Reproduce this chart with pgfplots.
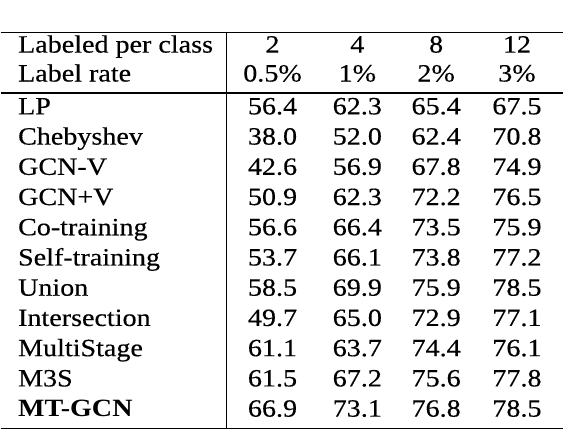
\documentclass[border=0pt]{standalone}
\usepackage{fontspec}
\setmainfont{Liberation Serif}[FakeStretch=1.13, UprightFeatures={FakeBold=0.35}]
\usepackage{pgfplots}
\usepackage{pgfplotstable}
\pgfplotsset{compat=1.18}

% header rows: baseline y (px from top), label, then one cell per column
\pgfplotstableread{
y     label               c2       c4     c8     c12
52.7  {Labeled per class} 2        4      8      12
81.7  {Label rate}        0.5\%    1\%    2\%    3\%
}\headrows

% accuracy per method and number of labels per class
\pgfplotstableread{
y      method              c2    c4    c8    c12
114.6  LP                  56.4  62.3  65.4  67.5
144.9  Chebyshev           38.0  52.0  62.4  70.8
175.2  GCN-V               42.6  56.9  67.8  74.9
205.5  GCN+V               50.9  62.3  72.2  76.5
235.8  Co-training         56.6  66.4  73.5  75.9
266.1  Self-training       53.7  66.1  73.8  77.2
296.4  Union               58.5  69.9  75.9  78.5
326.7  Intersection        49.7  65.0  72.9  77.1
357.0  MultiStage          61.1  63.7  74.4  76.1
387.3  M3S                 61.5  67.2  75.6  77.8
417.6  {\textbf{MT-GCN}}   66.9  73.1  76.8  78.5
}\results

\tikzset{cell/.style={font=\fontsize{25}{30}\selectfont, inner sep=0pt, text=black}}

\begin{document}
\begin{tikzpicture}
\begin{axis}[
  scale only axis,
  width=564bp, height=432bp,
  xmin=0, xmax=564, ymin=0, ymax=432,
  y dir=reverse,
  hide axis,
  clip=false,
  point meta=explicit symbolic,
]
% invisible frame so the page is the full size
\addplot[draw=none] coordinates {(0,0) (564,432)};

% rules
\addplot[black, line width=1.3bp] coordinates {(0,32.6) (564,32.6)};
\addplot[black, line width=1.2bp] coordinates {(0,93.2) (564,93.2)};
\addplot[black, line width=1.3bp] coordinates {(0,429.4) (564,429.4)};
\addplot[black, line width=1.1bp] coordinates {(226.5,32.6) (226.5,429.4)};

% first column
\addplot[only marks, mark=none, nodes near coords,
  nodes near coords style={cell, anchor=base west}]
  table[x expr=17.3, y=y, meta=label] {\headrows};
\addplot[only marks, mark=none, nodes near coords,
  nodes near coords style={cell, anchor=base west}]
  table[x expr=17.3, y=y, meta=method] {\results};

% value columns
\foreach \col/\xc in {c2/272.5, c4/357.5, c8/436.5, c12/517.5} {
  \addplot[only marks, mark=none, nodes near coords,
    nodes near coords style={cell, anchor=base}]
    table[x expr=\xc, y=y, meta=\col] {\headrows};
  \addplot[only marks, mark=none, nodes near coords,
    nodes near coords style={cell, anchor=base}]
    table[x expr=\xc, y=y, meta=\col] {\results};
}
\end{axis}
\end{tikzpicture}
\end{document}
